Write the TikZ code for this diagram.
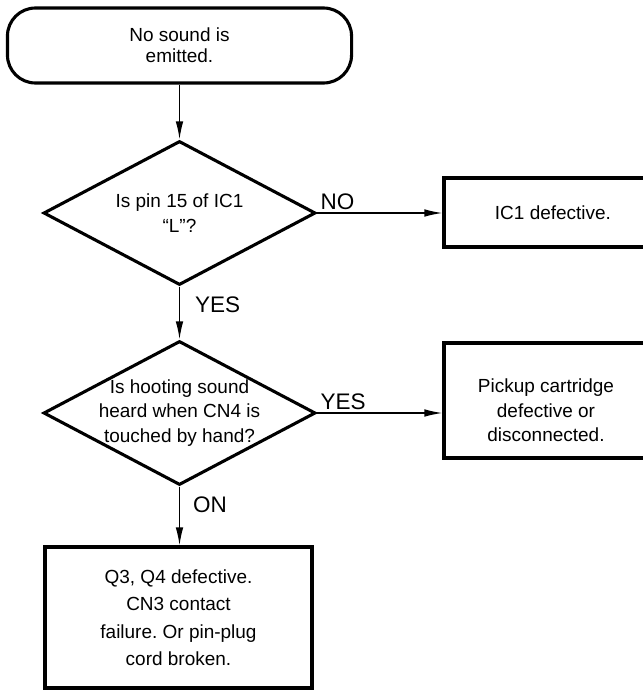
\documentclass[tikz,border=0pt]{standalone}
\usepackage{fontspec}
\setmainfont{Liberation Sans}
\usetikzlibrary{shapes.geometric,arrows.meta,positioning}
\frenchspacing

\tikzset{
  txt/.style={font=\fontsize{13.5}{17.5}\selectfont, align=center},
  startbox/.style={draw, line width=2.2pt, rounded corners=0.7cm,
    minimum width=8.6cm, minimum height=1.875cm, txt},
  decision/.style={draw, diamond, line width=2.2pt, inner sep=0pt,
    minimum width=6.8cm, minimum height=3.6cm},
  resultbox/.style={draw, line width=2.2pt, txt},
  flowline/.style={line width=1pt, -{Latex[length=4.5mm,width=1.9mm]}},
  answer/.style={font=\fontsize{16}{18}\selectfont, inner sep=2pt},
}

\begin{document}
\begin{tikzpicture}[x=0.025cm,y=-0.025cm]
     \clip (0,0) rectangle (643,690);
     %start
     \node[startbox, font=\fontsize{13.5}{15}\selectfont] (start) at (179.5,45.5)
          {No sound is\\emitted.};

     %first check
     \node[decision, label={[txt]center:{Is pin 15 of IC1\\``L''?}}] (q1) at (179.5,213) {};
     \node[resultbox, minimum width=5.45cm, minimum height=1.725cm] (ic1) at (553,212.5)
          {IC1 defective.};

     %second check
     \node[decision, label={[txt]center:{Is hooting sound\\heard when CN4 is\\touched by hand?}}]
          (q2) at (179.5,413) {};
     \node[resultbox, minimum width=5.1cm, minimum height=2.875cm,
          label={[txt,yshift=-0.25cm]center:{Pickup cartridge\\defective or\\disconnected.}}]
          (pickup) at (546,400.5) {};
     \node[resultbox, minimum width=6.675cm, minimum height=3.525cm,
          font=\fontsize{13.5}{19.5}\selectfont] (q34) at (178.5,617.5)
          {Q3, Q4 defective.\\CN3 contact\\failure. Or pin-plug\\cord broken.};

     %connectors
     \draw[flowline] (start.south) -- (q1.north);
     \draw[flowline] (q1.east) -- (q1.east -| ic1.west)
          node[answer, pos=0, above right] {NO};
     \draw[flowline] (q1.south) -- (q2.north)
          node[answer, pos=0.35, right=0.3cm] {YES};
     \draw[flowline] (q2.east) -- (q2.east -| pickup.west)
          node[answer, pos=0, above right] {YES};
     \draw[flowline] (q2.south) -- (q2.south |- q34.north)
          node[answer, pos=0.31, right=0.25cm] {ON};
\end{tikzpicture}
\end{document}
